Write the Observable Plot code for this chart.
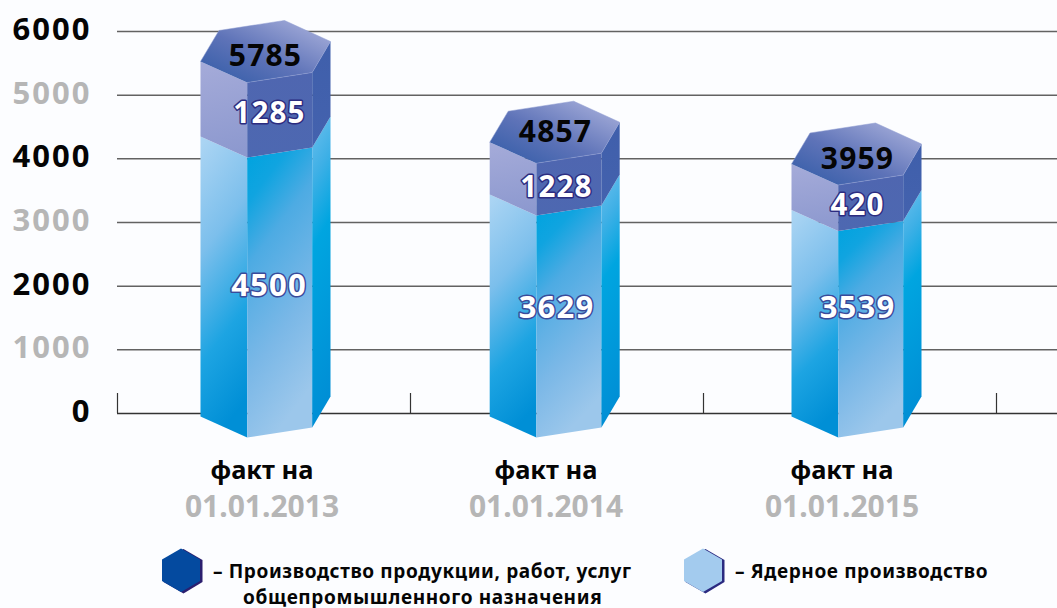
<!DOCTYPE html>
<html lang="ru">
<head>
<meta charset="utf-8">
<script src="https://cdn.jsdelivr.net/npm/d3@7"></script>
<script src="https://cdn.jsdelivr.net/npm/@observablehq/plot@0.6"></script>
<style>
  html, body { margin: 0; padding: 0; background: #fcfdff; overflow: hidden; }
  body { width: 1057px; height: 608px; font-family: "Noto Sans", sans-serif; }
  #legend { position: relative; width: 1057px; height: 68px; font-weight: 700; font-size: 19px; color: #050505; letter-spacing: .62px; }
  #legend div { position: absolute; white-space: nowrap; line-height: 26px; }
  #legend svg { position: absolute; overflow: visible; }
  .spaced text { letter-spacing: 1.2px; }
  .wide text { letter-spacing: 2px; }
</style>
</head>
<body>
<div id="chart"></div>
<div id="legend"></div>
<script>
// Labelled data
const categories = ["факт на", "факт на", "факт на"];
const dates = ["01.01.2013", "01.01.2014", "01.01.2015"];
const nuclear = [4500, 3629, 3539];
const general = [1285, 1228, 420];
const totals = [5785, 4857, 3959];
const yTicks = [0, 1000, 2000, 3000, 4000, 5000, 6000];

// Levels of each prism's section centres as read against the axis (the artwork is not to scale)
const drawnBase = [110, 110, 110];
const drawnNuclearTop = [4507, 3597, 3353];
const drawnTop = [5686, 4418, 4076];

// Label levels as read against the axis
const totalLabelAt = [5607, 4413, 3989];
const generalLabelAt = [4712, 3550, 3267];
const nuclearLabelAt = [1995, 1649, 1649];

// Horizontal placement, in the x scale's units
const prismX = [265, 554.2, 856];
const totalLabelX = [265, 555, 857];
const generalLabelX = [269, 556, 857];
const nuclearLabelX = [268.5, 556, 857];
const categoryX = [261.5, 545.5, 841.5];
const dividers = [117, 410, 703, 996];

// Hexagon outline relative to a prism's centre: x units, axis units
const L = [-65, -157], F = [-18.3, -487], R = [46.7, -330],
      B = [65, 157], K = [19, 487], H = [-46.5, 330];

const verts = (i, level, corners, tag) => corners.map(c => ({
  bar: tag + i, x: prismX[i] + c[0], y: level + c[1]
}));
const band = (levelsLo, levelsHi, a, b) => prismX.flatMap((_, i) => [
  ...verts(i, levelsLo[i], [a, b], "f"),
  ...verts(i, levelsHi[i], [b, a], "f")
]);
const face = (lo, hi, a, b, fill) => Plot.line(band(lo, hi, a, b), {
  x: "x", y: "y", z: "bar", fill: `url(#${fill})`, stroke: "none", curve: "linear"
});
const tops = prismX.flatMap((_, i) => verts(i, drawnTop[i], [L, H, K, B, R, F], "t"));

const stops = {
  nL: ["0.15,0,0.35,1", [[0,"#aad4f3"],[.35,"#7cbfec"],[.7,"#1da4e2"],[1,"#008fd6"]]],
  nF: ["0.1,0,0.4,1", [[0,"#00a3df"],[.15,"#10a4e0"],[.35,"#4dabe3"],[.7,"#7bb8e7"],[1,"#9cc7eb"]]],
  nR: ["0,0,0.1,1", [[0,"#6cbfed"],[.2,"#3fb0e6"],[.42,"#00a5e0"],[1,"#008ed5"]]],
  gL: ["0,0,0.1,1", [[0,"#a5abd9"],[1,"#8d99cf"]]],
  gF: ["0,0,0,1", [[0,"#4f66b0"],[1,"#4d68b1"]]],
  gR: ["0,0,0,1", [[0,"#3f5fab"],[1,"#4462ae"]]],
  top: ["0,1,1,0", [[0,"#2f5aa6"],[.45,"#5e73b8"],[1,"#b0b6df"]]]
};
const defs = () => {
  const d = d3.create("svg:defs");
  for (const [id, [v, s]] of Object.entries(stops)) {
    const [x1, y1, x2, y2] = v.split(",");
    const g = d.append("linearGradient").attr("id", id)
      .attr("x1", x1).attr("y1", y1).attr("x2", x2).attr("y2", y2);
    s.forEach(([o, c]) => g.append("stop").attr("offset", o).attr("stop-color", c));
  }
  return d.node();
};

const idx = d3.range(prismX.length);
const digit = { fontWeight: 700, fontFamily: "Noto Sans, sans-serif", className: "spaced" };

const chart = Plot.plot({
  width: 1057,
  height: 540,
  marginTop: 0, marginRight: 0, marginBottom: 0, marginLeft: 0,
  x: { axis: null, domain: [0, 1057], range: [0, 1057] },
  y: { axis: null, domain: [0, 6000], range: [413, 31] },
  style: { background: "transparent", fontFamily: "Noto Sans, sans-serif", overflow: "visible" },
  marks: [
    defs,
    Plot.ruleY(yTicks.filter(d => d > 0), { x1: dividers[0], x2: 1057, stroke: "#626262", strokeWidth: 1.5 }),
    Plot.ruleY([0], { x1: dividers[0], x2: 1057, stroke: "#333", strokeWidth: 1.6 }),
    Plot.ruleX(dividers, { y1: 0, y2: 314, stroke: "#333", strokeWidth: 1.2 }),
    Plot.text(yTicks, {
      y: d => d, text: d => String(d), frameAnchor: "left", dx: 91, dy: -1.5, textAnchor: "end",
      fill: d => (d / 1000) % 2 === 0 ? "#050505" : "#b6b6b6",
      fontWeight: 700, fontFamily: "Noto Sans, sans-serif", fontSize: 31, className: "wide"
    }),
    // Nuclear section
    face(drawnBase, drawnNuclearTop, L, F, "nL"),
    face(drawnBase, drawnNuclearTop, F, R, "nF"),
    face(drawnBase, drawnNuclearTop, R, B, "nR"),
    // General-industrial section
    face(drawnNuclearTop, drawnTop, L, F, "gL"),
    face(drawnNuclearTop, drawnTop, F, R, "gF"),
    face(drawnNuclearTop, drawnTop, R, B, "gR"),
    // Cap
    Plot.line(tops, { x: "x", y: "y", z: "bar", fill: "url(#top)", stroke: "#8c9ad0", strokeWidth: 0.5, curve: "linear" }),
    // Value labels
    Plot.text(idx, { x: i => totalLabelX[i], y: i => totalLabelAt[i], text: i => String(totals[i]), fill: "#050505", fontSize: 30, ...digit }),
    Plot.text(idx, { x: i => generalLabelX[i], y: i => generalLabelAt[i], text: i => String(general[i]),
      fill: "#fff", stroke: "#2c2c80", strokeWidth: 3, paintOrder: "stroke", fontSize: 29.5, ...digit }),
    Plot.text(idx, { x: i => nuclearLabelX[i], y: i => nuclearLabelAt[i], text: i => String(nuclear[i]),
      fill: "#fff", stroke: "#3a4a9a", strokeWidth: 3, paintOrder: "stroke", fontSize: 31, ...digit }),
    // Category labels
    Plot.text(idx, { x: i => categoryX[i], y: 0, dy: 57, text: i => categories[i], fill: "#050505", fontWeight: 700, fontSize: 25.5 }),
    Plot.text(idx, { x: i => categoryX[i], y: 0, dy: 94, text: i => dates[i], fill: "#b6b6b6", fontWeight: 700, fontSize: 30 })
  ]
});
document.getElementById("chart").appendChild(chart);
chart.style.display = "block";

// Legend
const legendItems = [
  { text: "– Производство продукции, работ, услуг", color: "#044a9f", shadow: "#2b1f6f", hex: 162, label: 213, second: "общепромышленного назначения" },
  { text: "– Ядерное производство", color: "#a3cbee", shadow: "#2b2a80", hex: 684, label: 735 }
];
const legend = d3.select("#legend");
legendItems.forEach(it => {
  const s = legend.append("svg").attr("width", 42).attr("height", 46)
    .style("left", it.hex + "px").style("top", "9px");
  const hexPts = dx => [[20 + dx, 0], [39 + dx, 11], [39 + dx, 33], [20 + dx, 44.5], [0 + dx, 33], [0 + dx, 11]].join(" ");
  s.append("polygon").attr("points", hexPts(1.5)).attr("fill", it.shadow);
  s.append("polygon").attr("points", [[19, -0.5], [38, 10.5], [38, 32], [19, 43], [0, 32], [0, 10.5]].join(" ")).attr("fill", it.color);
  legend.append("div").text(it.text).style("left", it.label + "px").style("top", "18px");
  if (it.second) legend.append("div").text(it.second).style("left", "243px").style("top", "44px");
});
</script>
</body>
</html>
